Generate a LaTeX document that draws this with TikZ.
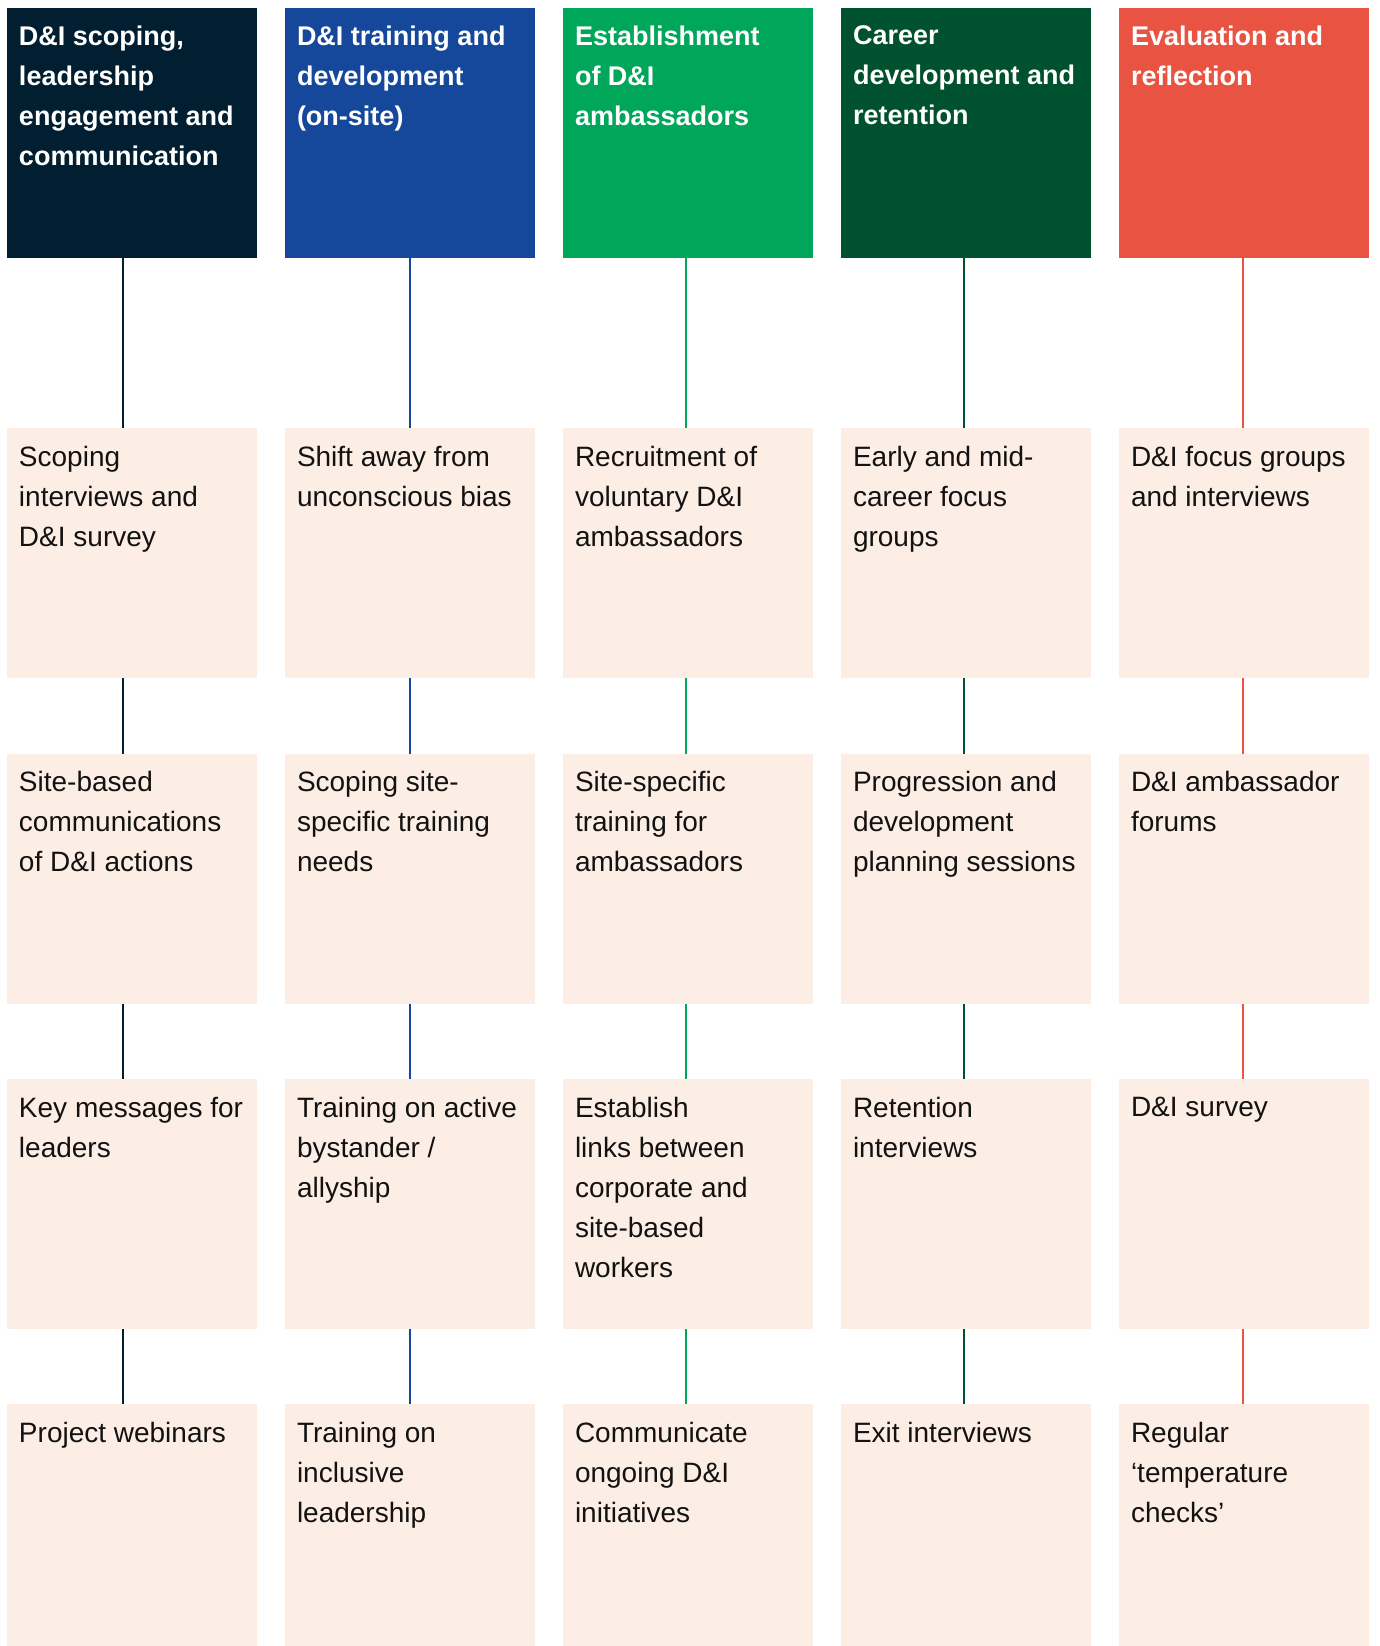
\documentclass[tikz,border=0pt]{standalone}
\usepackage{fontspec}
\setmainfont{Liberation Sans}
\definecolor{scopenavy}{HTML}{011F31}
\definecolor{trainblue}{HTML}{15489A}
\definecolor{ambgreen}{HTML}{00A65A}
\definecolor{careergreen}{HTML}{00512E}
\definecolor{evalred}{HTML}{E85342}
\definecolor{boxpeach}{HTML}{FDEEE5}
\newcommand{\celltext}[2]{\parbox[t][#1][t]{226pt}{\raggedright #2}}
\tikzset{
  headbox/.style={anchor=north west,fill=#1,inner xsep=12pt,inner ysep=18pt,outer sep=0pt,
    text=white,font=\fontsize{27}{40}\selectfont\bfseries},
  actbox/.style={anchor=north west,fill=boxpeach,inner xsep=12pt,inner ysep=18pt,outer sep=0pt,
    text=black!93,font=\fontsize{28}{40}\selectfont},
  link/.style={draw=#1,line width=2pt}
}
\begin{document}
\begin{tikzpicture}[x=1pt,y=-1pt]
  \useasboundingbox (0,0) rectangle (1379,1646);
  \node[headbox=scopenavy] (h1) at (7,8) {\celltext{214pt}{D\&I scoping,\\leadership\\engagement and\\communication}};
  \node[headbox=trainblue] (h2) at (285,8) {\celltext{214pt}{D\&I training and\\development\\(on-site)}};
  \node[headbox=ambgreen] (h3) at (563,8) {\celltext{214pt}{Establishment\\of D\&I\\ambassadors}};
  \node[headbox=careergreen] (h4) at (841,8) {\celltext{214pt}{Career\\development and\\retention}};
  \node[headbox=evalred] (h5) at (1119,8) {\celltext{214pt}{Evaluation and\\reflection}};

  \node[actbox] (b11) at (7,428) {\celltext{214pt}{Scoping\\interviews and\\D\&I survey}};
  \node[actbox] (b12) at (7,753.5) {\celltext{214pt}{Site-based\\communications\\of D\&I actions}};
  \node[actbox] (b13) at (7,1079) {\celltext{214pt}{Key messages for\\leaders}};
  \node[actbox] (b14) at (7,1404) {\celltext{206pt}{Project webinars}};

  \node[actbox] (b21) at (285,428) {\celltext{214pt}{Shift away from\\unconscious bias}};
  \node[actbox] (b22) at (285,753.5) {\celltext{214pt}{Scoping site-\\specific training\\needs}};
  \node[actbox] (b23) at (285,1079) {\celltext{214pt}{Training on active\\bystander /\\allyship}};
  \node[actbox] (b24) at (285,1404) {\celltext{206pt}{Training on\\inclusive\\leadership}};

  \node[actbox] (b31) at (563,428) {\celltext{214pt}{Recruitment of\\voluntary D\&I\\ambassadors}};
  \node[actbox] (b32) at (563,753.5) {\celltext{214pt}{Site-specific\\training for\\ambassadors}};
  \node[actbox] (b33) at (563,1079) {\celltext{214pt}{Establish\\links between\\corporate and\\site-based\\workers}};
  \node[actbox] (b34) at (563,1404) {\celltext{206pt}{Communicate\\ongoing D\&I\\initiatives}};

  \node[actbox] (b41) at (841,428) {\celltext{214pt}{Early and mid-\\career focus\\groups}};
  \node[actbox] (b42) at (841,753.5) {\celltext{214pt}{Progression and\\development\\planning sessions}};
  \node[actbox] (b43) at (841,1079) {\celltext{214pt}{Retention\\interviews}};
  \node[actbox] (b44) at (841,1404) {\celltext{206pt}{Exit interviews}};

  \node[actbox] (b51) at (1119,428) {\celltext{214pt}{D\&I focus groups\\and interviews}};
  \node[actbox] (b52) at (1119,753.5) {\celltext{214pt}{D\&I ambassador\\forums}};
  \node[actbox] (b53) at (1119,1079) {\celltext{214pt}{D\&I survey}};
  \node[actbox] (b54) at (1119,1404) {\celltext{206pt}{Regular\\`temperature\\checks'}};

  \begin{scope}[link=scopenavy]
    \draw ([xshift=-9pt]h1.south) -- ([xshift=-9pt]b11.north);
    \draw ([xshift=-9pt]b11.south) -- ([xshift=-9pt]b12.north);
    \draw ([xshift=-9pt]b12.south) -- ([xshift=-9pt]b13.north);
    \draw ([xshift=-9pt]b13.south) -- ([xshift=-9pt]b14.north);
  \end{scope}
  \begin{scope}[link=trainblue]
    \draw (h2.south) -- (b21.north);
    \draw (b21.south) -- (b22.north);
    \draw (b22.south) -- (b23.north);
    \draw (b23.south) -- (b24.north);
  \end{scope}
  \begin{scope}[link=ambgreen]
    \draw ([xshift=-2pt]h3.south) -- ([xshift=-2pt]b31.north);
    \draw ([xshift=-2pt]b31.south) -- ([xshift=-2pt]b32.north);
    \draw ([xshift=-2pt]b32.south) -- ([xshift=-2pt]b33.north);
    \draw ([xshift=-2pt]b33.south) -- ([xshift=-2pt]b34.north);
  \end{scope}
  \begin{scope}[link=careergreen]
    \draw ([xshift=-2pt]h4.south) -- ([xshift=-2pt]b41.north);
    \draw ([xshift=-2pt]b41.south) -- ([xshift=-2pt]b42.north);
    \draw ([xshift=-2pt]b42.south) -- ([xshift=-2pt]b43.north);
    \draw ([xshift=-2pt]b43.south) -- ([xshift=-2pt]b44.north);
  \end{scope}
  \begin{scope}[link=evalred]
    \draw ([xshift=-1pt]h5.south) -- ([xshift=-1pt]b51.north);
    \draw ([xshift=-1pt]b51.south) -- ([xshift=-1pt]b52.north);
    \draw ([xshift=-1pt]b52.south) -- ([xshift=-1pt]b53.north);
    \draw ([xshift=-1pt]b53.south) -- ([xshift=-1pt]b54.north);
  \end{scope}
\end{tikzpicture}
\end{document}
